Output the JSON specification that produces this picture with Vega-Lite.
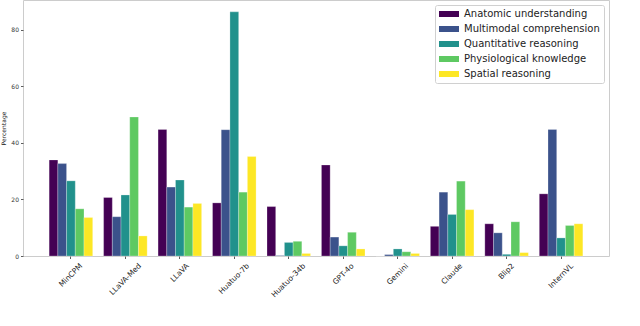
{
  "$schema": "https://vega.github.io/schema/vega-lite/v6.json",
  "width": 586,
  "height": 256,
  "autosize": {"type": "none"},
  "padding": {"left": 23, "top": 0, "right": 31, "bottom": 70},
  "background": "white",
  "config": {
    "font": "DejaVu Sans",
    "view": {"stroke": "#cccccc", "strokeWidth": 1},
    "axis": {"grid": false, "domain": false, "labelFont": "DejaVu Sans", "titleFont": "DejaVu Sans", "labelColor": "#333333", "tickColor": "#333333", "tickSize": 2.5, "tickWidth": 0.8, "labelFontSize": 6, "titleFontSize": 6, "titleFontWeight": "normal", "titleColor": "#222222"}
  },
  "data": {
    "values": [
      {"model": "MinCPM", "category": "Anatomic understanding", "value": 34.0},
      {"model": "MinCPM", "category": "Multimodal comprehension", "value": 32.7},
      {"model": "MinCPM", "category": "Quantitative reasoning", "value": 26.6},
      {"model": "MinCPM", "category": "Physiological knowledge", "value": 16.7},
      {"model": "MinCPM", "category": "Spatial reasoning", "value": 13.6},
      {"model": "LLaVA-Med", "category": "Anatomic understanding", "value": 20.7},
      {"model": "LLaVA-Med", "category": "Multimodal comprehension", "value": 13.9},
      {"model": "LLaVA-Med", "category": "Quantitative reasoning", "value": 21.6},
      {"model": "LLaVA-Med", "category": "Physiological knowledge", "value": 49.2},
      {"model": "LLaVA-Med", "category": "Spatial reasoning", "value": 7.1},
      {"model": "LLaVA", "category": "Anatomic understanding", "value": 44.8},
      {"model": "LLaVA", "category": "Multimodal comprehension", "value": 24.4},
      {"model": "LLaVA", "category": "Quantitative reasoning", "value": 26.9},
      {"model": "LLaVA", "category": "Physiological knowledge", "value": 17.3},
      {"model": "LLaVA", "category": "Spatial reasoning", "value": 18.6},
      {"model": "Huatuo-7b", "category": "Anatomic understanding", "value": 18.8},
      {"model": "Huatuo-7b", "category": "Multimodal comprehension", "value": 44.7},
      {"model": "Huatuo-7b", "category": "Quantitative reasoning", "value": 86.4},
      {"model": "Huatuo-7b", "category": "Physiological knowledge", "value": 22.6},
      {"model": "Huatuo-7b", "category": "Spatial reasoning", "value": 35.2},
      {"model": "Huatuo-34b", "category": "Anatomic understanding", "value": 17.5},
      {"model": "Huatuo-34b", "category": "Multimodal comprehension", "value": 0.2},
      {"model": "Huatuo-34b", "category": "Quantitative reasoning", "value": 4.8},
      {"model": "Huatuo-34b", "category": "Physiological knowledge", "value": 5.2},
      {"model": "Huatuo-34b", "category": "Spatial reasoning", "value": 0.9},
      {"model": "GPT-4o", "category": "Anatomic understanding", "value": 32.2},
      {"model": "GPT-4o", "category": "Multimodal comprehension", "value": 6.7},
      {"model": "GPT-4o", "category": "Quantitative reasoning", "value": 3.6},
      {"model": "GPT-4o", "category": "Physiological knowledge", "value": 8.4},
      {"model": "GPT-4o", "category": "Spatial reasoning", "value": 2.5},
      {"model": "Gemini", "category": "Anatomic understanding", "value": 0},
      {"model": "Gemini", "category": "Multimodal comprehension", "value": 0.5},
      {"model": "Gemini", "category": "Quantitative reasoning", "value": 2.5},
      {"model": "Gemini", "category": "Physiological knowledge", "value": 1.5},
      {"model": "Gemini", "category": "Spatial reasoning", "value": 0.9},
      {"model": "Claude", "category": "Anatomic understanding", "value": 10.5},
      {"model": "Claude", "category": "Multimodal comprehension", "value": 22.6},
      {"model": "Claude", "category": "Quantitative reasoning", "value": 14.7},
      {"model": "Claude", "category": "Physiological knowledge", "value": 26.5},
      {"model": "Claude", "category": "Spatial reasoning", "value": 16.4},
      {"model": "Blip2", "category": "Anatomic understanding", "value": 11.4},
      {"model": "Blip2", "category": "Multimodal comprehension", "value": 8.2},
      {"model": "Blip2", "category": "Quantitative reasoning", "value": 0.6},
      {"model": "Blip2", "category": "Physiological knowledge", "value": 12.1},
      {"model": "Blip2", "category": "Spatial reasoning", "value": 1.2},
      {"model": "InternVL", "category": "Anatomic understanding", "value": 22.0},
      {"model": "InternVL", "category": "Multimodal comprehension", "value": 44.8},
      {"model": "InternVL", "category": "Quantitative reasoning", "value": 6.4},
      {"model": "InternVL", "category": "Physiological knowledge", "value": 10.8},
      {"model": "InternVL", "category": "Spatial reasoning", "value": 11.4}
    ]
  },
  "mark": {"type": "bar", "stroke": "white", "strokeOpacity": 0.5, "strokeWidth": 0.5},
  "encoding": {
    "x": {
      "field": "model", "type": "nominal", "sort": null, "title": null,
      "scale": {"paddingInner": 0.2, "paddingOuter": 0.48},
      "axis": {
        "labelAngle": -45, "labelAlign": "right", "labelBaseline": "middle", "labelPadding": 6, "labelFontSize": 7.5, "labelColor": "#222222",
        "labelOffset": {
          "condition": [
            {"test": "datum.value == 'LLaVA-Med'", "value": 14.8},
            {"test": "datum.value == 'LLaVA'", "value": 8.2},
            {"test": "datum.value == 'Huatuo-7b'", "value": 14.0},
            {"test": "datum.value == 'Huatuo-34b'", "value": 15.7},
            {"test": "datum.value == 'GPT-4o'", "value": 9.6},
            {"test": "datum.value == 'Gemini'", "value": 9.5},
            {"test": "datum.value == 'Claude'", "value": 9.2},
            {"test": "datum.value == 'Blip2'", "value": 6.7},
            {"test": "datum.value == 'InternVL'", "value": 11.2}
          ],
          "value": 10.5
        }
      }
    },
    "xOffset": {
      "field": "category", "type": "nominal",
      "sort": ["Anatomic understanding", "Multimodal comprehension", "Quantitative reasoning", "Physiological knowledge", "Spatial reasoning"],
      "scale": {"paddingInner": 0, "paddingOuter": 0}
    },
    "y": {
      "field": "value", "type": "quantitative", "title": "Percentage",
      "scale": {"domain": [0, 90.6], "nice": false},
      "axis": {"values": [0, 20, 40, 60, 80], "titlePadding": 4, "labelPadding": 2}
    },
    "color": {
      "field": "category", "type": "nominal", "title": null,
      "sort": ["Anatomic understanding", "Multimodal comprehension", "Quantitative reasoning", "Physiological knowledge", "Spatial reasoning"],
      "scale": {"range": ["#440154", "#3b528b", "#21918c", "#5ec962", "#fde725"]},
      "legend": {
        "orient": "top-right", "offset": 5,
        "symbolType": "M-2,-0.6H2V0.6H-2Z", "symbolSize": 100, "symbolStrokeWidth": 0, "symbolOpacity": 1, "symbolOffset": 5,
        "labelFont": "DejaVu Sans", "labelFontSize": 10, "labelColor": "#222222", "labelOffset": 10,
        "rowPadding": 5, "padding": 4, "strokeColor": "#d0d0d0", "fillColor": "white", "cornerRadius": 2,
        "labelLimit": 300
      }
    }
  }
}
